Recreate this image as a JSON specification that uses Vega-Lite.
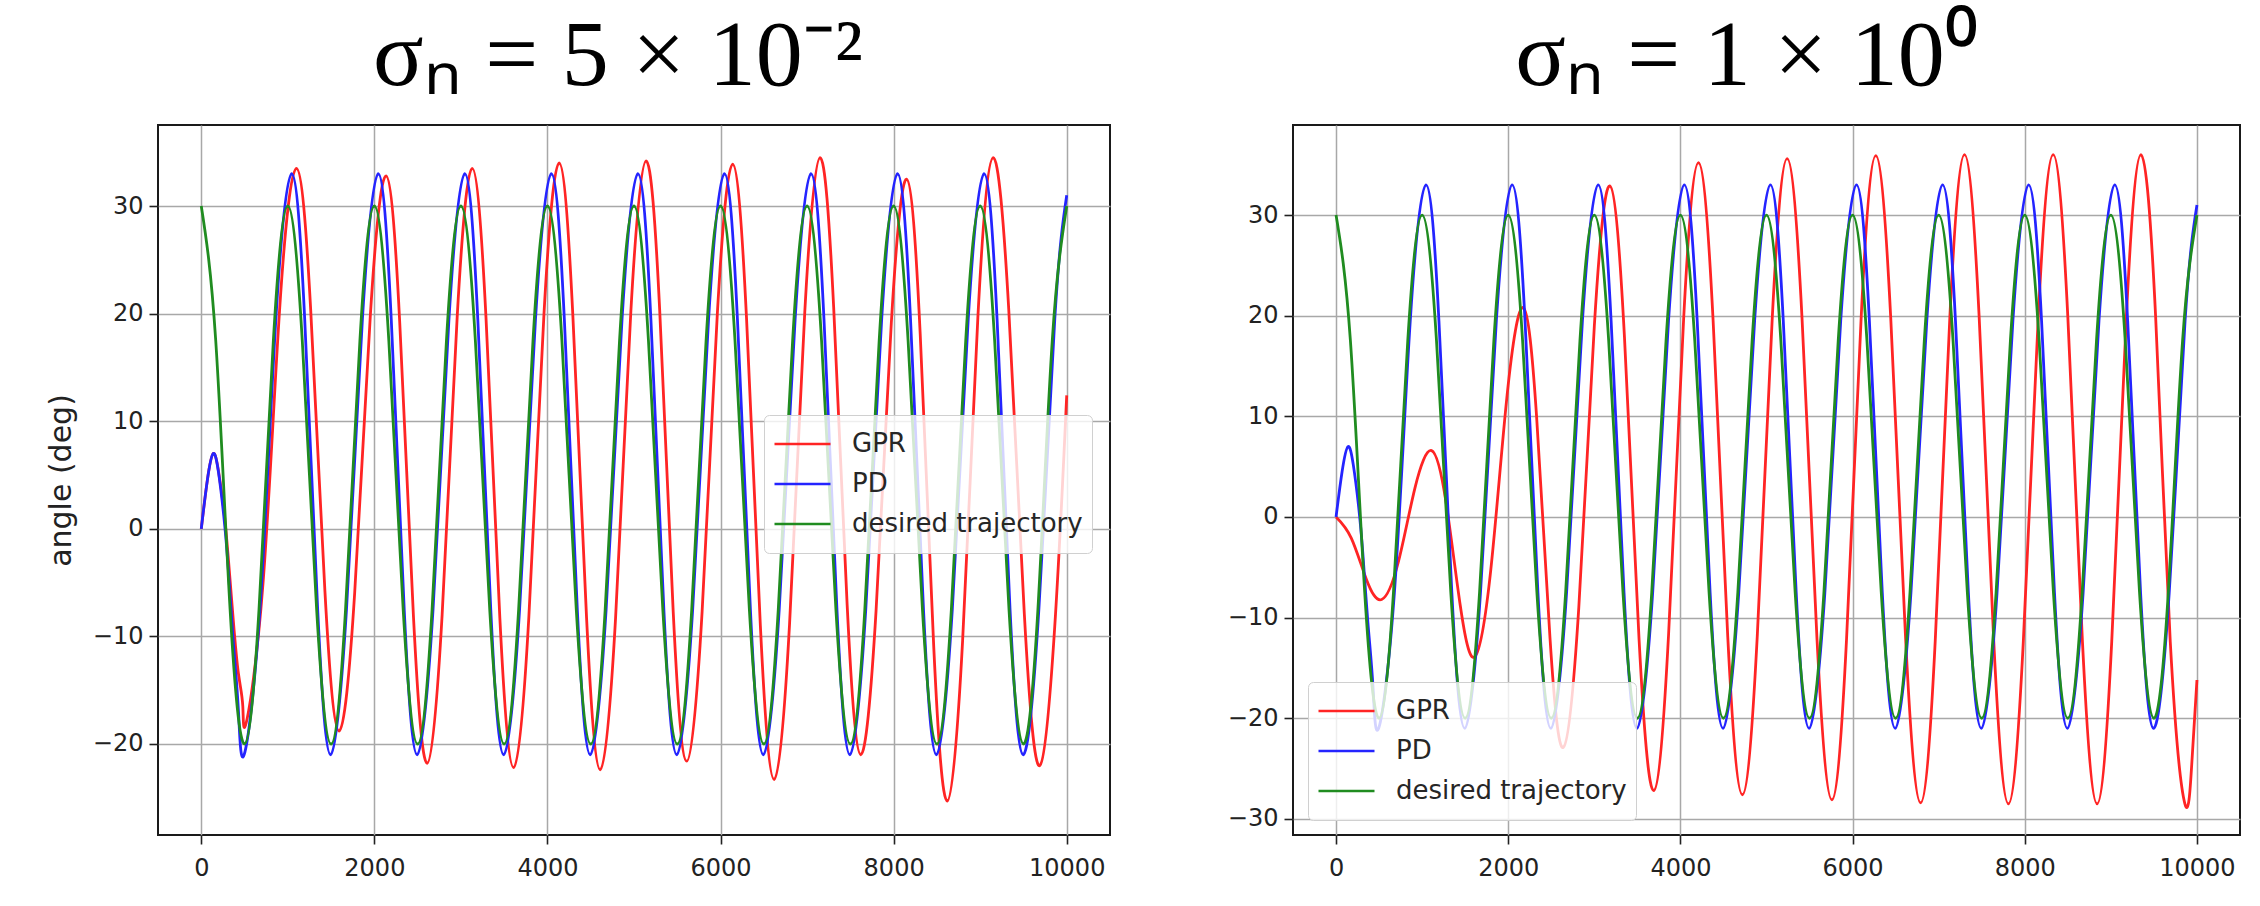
{
  "$schema": "https://vega.github.io/schema/vega-lite/v6.json",
  "background": "white",
  "padding": {"left": 45, "top": 9, "right": 0, "bottom": 0},
  "spacing": 115,
  "datasets": {
    "series": [
      {"panel": "left", "series": "GPR",
       "t": [0,70,139,200,260,310,370,430,480,520,713,907,1100,1264,1428,1592,1773,1954,2135,2293,2452,2610,2783,2957,3130,3290,3450,3610,3785,3960,4135,4293,4452,4610,4787,4963,5140,5297,5453,5610,5787,5963,6140,6300,6460,6620,6797,6973,7150,7307,7463,7620,7797,7973,8150,8307,8463,8620,8797,8973,9150,9330,9510,9690,9870,10000],
       "v": [0,4.5,7,5.3,1.8,-2.5,-8.5,-13.5,-16.5,-18,-5.1,20.6,33.5,20.4,-5.7,-18.8,-5.9,19.9,32.8,19.2,-8.2,-21.8,-8.0,19.7,33.5,19.6,-8.3,-22.2,-8.2,20.0,34.0,19.9,-8.3,-22.4,-8.3,20.1,34.2,20.3,-7.7,-21.6,-7.7,20.0,33.9,19.6,-9.0,-23.3,-8.9,20.1,34.5,20.6,-7.1,-21.0,-7.6,19.1,32.5,18.1,-10.9,-25.3,-10.4,19.6,34.5,20.4,-7.9,-22.0,-8.0,12.4]},
      {"panel": "right", "series": "GPR",
       "t": [0,177,353,530,723,917,1110,1277,1443,1610,1798,1987,2175,2330,2485,2640,2820,3000,3180,3350,3520,3690,3863,4037,4210,4380,4550,4720,4893,5067,5240,5413,5587,5760,5930,6100,6270,6443,6617,6790,6960,7130,7300,7470,7640,7810,7983,8157,8330,8500,8670,8840,9010,9180,9350,9520,9690,9860,9940,10000],
       "v": [0,-2.1,-6.2,-8.2,-4.5,2.9,6.6,1.5,-8.8,-13.9,-5.2,12.1,20.8,9.9,-12.0,-22.9,-8.95,18.95,32.9,17.9,-12.2,-27.2,-11.6,19.6,35.2,19.5,-11.9,-27.6,-11.8,19.8,35.6,19.7,-12.2,-28.1,-12.1,19.9,35.9,19.8,-12.3,-28.4,-12.3,19.9,36.0,19.9,-12.4,-28.5,-12.4,19.9,36.0,19.9,-12.4,-28.5,-12.4,19.9,36.0,19.9,-12.4,-28.5,-24.5,-16.2]},
      {"panel": "both", "series": "PD",
       "t": [0,70,139,200,260,310,370,430,495,678,862,1045,1195,1345,1495,1678,1862,2045,2195,2345,2495,2678,2862,3045,3195,3345,3495,3678,3862,4045,4195,4345,4495,4678,4862,5045,5195,5345,5495,5678,5862,6045,6195,6345,6495,6678,6862,7045,7195,7345,7495,7678,7862,8045,8195,8345,8495,8678,8862,9045,9195,9345,9495,9678,9862,10000],
       "v": [0,4.5,7,5.2,1.2,-3.5,-10.5,-17,-21,-7.5,19.5,33,19.5,-7.5,-21,-7.5,19.5,33,19.5,-7.5,-21,-7.5,19.5,33,19.5,-7.5,-21,-7.5,19.5,33,19.5,-7.5,-21,-7.5,19.5,33,19.5,-7.5,-21,-7.5,19.5,33,19.5,-7.5,-21,-7.5,19.5,33,19.5,-7.5,-21,-7.5,19.5,33,19.5,-7.5,-21,-7.5,19.5,33,19.5,-7.5,-21,-7.5,19.5,31]},
      {"panel": "both", "series": "desired trajectory",
       "t": [0,167,333,500,667,833,1000,1167,1333,1500,1667,1833,2000,2167,2333,2500,2667,2833,3000,3167,3333,3500,3667,3833,4000,4167,4333,4500,4667,4833,5000,5167,5333,5500,5667,5833,6000,6167,6333,6500,6667,6833,7000,7167,7333,7500,7667,7833,8000,8167,8333,8500,8667,8833,9000,9167,9333,9500,9667,9833,10000],
       "v": [30,17.5,-7.5,-20,-7.5,17.5,30,17.5,-7.5,-20,-7.5,17.5,30,17.5,-7.5,-20,-7.5,17.5,30,17.5,-7.5,-20,-7.5,17.5,30,17.5,-7.5,-20,-7.5,17.5,30,17.5,-7.5,-20,-7.5,17.5,30,17.5,-7.5,-20,-7.5,17.5,30,17.5,-7.5,-20,-7.5,17.5,30,17.5,-7.5,-20,-7.5,17.5,30,17.5,-7.5,-20,-7.5,17.5,30]}
    ]
  },
  "hconcat": [
    {
      "width": 952,
      "height": 710,
      "title": {"text": "σₙ = 5 × 10⁻²", "dx": -16},
      "data": {"name": "series"},
      "transform": [
        {"filter": "datum.panel == 'left' || datum.panel == 'both'"},
        {"flatten": ["t", "v"]}
      ],
      "mark": {"type": "line", "interpolate": "natural", "strokeWidth": 2.8, "clip": true},
      "encoding": {
        "x": {"field": "t", "type": "quantitative",
              "scale": {"domain": [-500, 10500], "nice": false, "zero": false},
              "axis": {"values": [0, 2000, 4000, 6000, 8000, 10000], "format": "d", "title": "time (1ms)"}},
        "y": {"field": "v", "type": "quantitative",
              "scale": {"domain": [-28.46, 37.53], "nice": false, "zero": false},
              "axis": {"values": [-20, -10, 0, 10, 20, 30], "title": "angle (deg)"}},
        "color": {"field": "series", "type": "nominal",
                  "scale": {"domain": ["GPR", "PD", "desired trajectory"], "range": ["#ff2424", "#2424ff", "#208c20"]},
                  "legend": {"orient": "none", "legendX": 606, "legendY": 290, "title": null}}
      }
    },
    {
      "width": 947,
      "height": 710,
      "title": {"text": "σₙ = 1 × 10⁰", "dx": -20},
      "data": {"name": "series"},
      "transform": [
        {"filter": "datum.panel == 'right' || datum.panel == 'both'"},
        {"flatten": ["t", "v"]}
      ],
      "mark": {"type": "line", "interpolate": "natural", "strokeWidth": 2.8, "clip": true},
      "encoding": {
        "x": {"field": "t", "type": "quantitative",
              "scale": {"domain": [-500, 10500], "nice": false, "zero": false},
              "axis": {"values": [0, 2000, 4000, 6000, 8000, 10000], "format": "d", "title": "time (1ms)"}},
        "y": {"field": "v", "type": "quantitative",
              "scale": {"domain": [-31.6, 38.95], "nice": false, "zero": false},
              "axis": {"values": [-30, -20, -10, 0, 10, 20, 30], "title": null}},
        "color": {"field": "series", "type": "nominal",
                  "scale": {"domain": ["GPR", "PD", "desired trajectory"], "range": ["#ff2424", "#2424ff", "#208c20"]},
                  "legend": {"orient": "bottom-left", "offset": 15, "title": null}}
      }
    }
  ],
  "resolve": {"scale": {"x": "independent", "y": "independent"}},
  "config": {
    "view": {"stroke": "#1a1a1a", "strokeWidth": 2},
    "title": {"font": "Liberation Serif", "fontSize": 94, "fontWeight": "normal", "color": "#000000", "anchor": "middle", "frame": "group", "baseline": "alphabetic", "offset": 20},
    "axis": {"labelFont": "DejaVu Sans", "labelFontSize": 24, "labelColor": "#222222", "labelFlush": false, "labelPadding": 6,
             "titleFont": "DejaVu Sans", "titleFontSize": 30, "titleFontWeight": "normal", "titleColor": "#222222",
             "domain": false, "tickColor": "#222222", "tickSize": 9, "tickWidth": 1.6,
             "grid": true, "gridColor": "#a8a8a8", "gridWidth": 1.5, "gridOpacity": 1},
    "axisX": {"titlePadding": 28, "labelPadding": 12},
    "axisY": {"titlePadding": 16},
    "legend": {"symbolType": "stroke", "symbolSize": 3136, "symbolStrokeWidth": 2.4, "clipHeight": 40,
               "labelFont": "DejaVu Sans", "labelFontSize": 26, "labelColor": "#262626", "labelOffset": 20, "labelLimit": 500,
               "rowPadding": 0, "padding": 9, "fillColor": "rgba(255,255,255,0.8)", "strokeColor": "#d0d0d0", "cornerRadius": 5}
  }
}
